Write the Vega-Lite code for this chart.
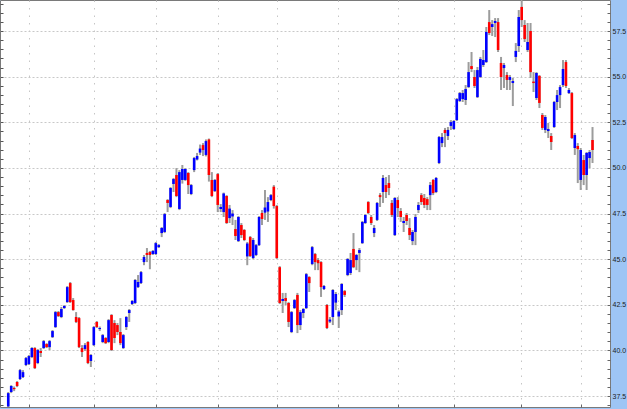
{
"$schema": "https://vega.github.io/schema/vega-lite/v6.json",
"width": 610, "height": 407,
"autosize": "none",
"padding": {"left": 0, "top": 0, "right": 17, "bottom": 2},
"background": "#9ec5f5",
"config": {"view": {"fill": "#ffffff", "stroke": "#7a7a7a", "strokeWidth": 1}},
"data": {"values": [
{"day":0,"open":36.93,"high":37.72,"low":36.9,"close":37.66},
{"day":1,"open":37.72,"high":38.1,"low":37.66,"close":38.05},
{"day":2,"open":37.94,"high":38.02,"low":37.77,"close":37.88},
{"day":3,"open":38.27,"high":38.32,"low":37.99,"close":38.05},
{"day":4,"open":38.43,"high":38.98,"low":38.38,"close":38.92},
{"day":5,"open":38.54,"high":38.92,"low":38.49,"close":38.81},
{"day":6,"open":39.2,"high":39.64,"low":39.14,"close":39.58},
{"day":7,"open":39.25,"high":39.75,"low":39.2,"close":39.69},
{"day":8,"open":39.64,"high":40.18,"low":39.58,"close":40.13},
{"day":9,"open":40.13,"high":40.18,"low":38.98,"close":39.03},
{"day":10,"open":39.31,"high":40.08,"low":39.25,"close":40.02},
{"day":11,"open":39.97,"high":40.13,"low":39.64,"close":39.86},
{"day":12,"open":40.13,"high":40.57,"low":40.08,"close":40.51},
{"day":13,"open":40.35,"high":40.4,"low":40.13,"close":40.18},
{"day":14,"open":40.18,"high":40.57,"low":40.02,"close":40.51},
{"day":15,"open":40.73,"high":41.12,"low":40.68,"close":41.06},
{"day":16,"open":41.28,"high":42.16,"low":41.23,"close":42.1},
{"day":17,"open":42.1,"high":42.16,"low":41.83,"close":41.88},
{"day":18,"open":41.83,"high":42.38,"low":41.77,"close":42.27},
{"day":19,"open":42.32,"high":42.49,"low":42.27,"close":42.43},
{"day":20,"open":42.65,"high":43.53,"low":42.6,"close":43.47},
{"day":21,"open":43.69,"high":43.75,"low":42.6,"close":42.65},
{"day":22,"open":42.76,"high":42.87,"low":42.18,"close":42.21},
{"day":23,"open":41.83,"high":42.1,"low":41.5,"close":41.56},
{"day":24,"open":41.77,"high":41.83,"low":40.13,"close":40.18},
{"day":25,"open":40.13,"high":40.29,"low":39.64,"close":39.91},
{"day":26,"open":40.08,"high":40.4,"low":39.97,"close":40.29},
{"day":27,"open":40.46,"high":40.51,"low":39.25,"close":39.31},
{"day":28,"open":39.42,"high":39.8,"low":39.09,"close":39.75},
{"day":29,"open":40.29,"high":41.34,"low":40.24,"close":41.28},
{"day":30,"open":41.56,"high":41.61,"low":41.23,"close":41.28},
{"day":31,"open":41.17,"high":41.31,"low":41.06,"close":41.23},
{"day":32,"open":40.46,"high":40.9,"low":40.4,"close":40.84},
{"day":33,"open":40.68,"high":40.73,"low":40.35,"close":40.4},
{"day":34,"open":40.46,"high":41.72,"low":40.4,"close":41.66},
{"day":35,"open":41.94,"high":41.99,"low":39.97,"close":40.02},
{"day":36,"open":41.5,"high":41.66,"low":40.4,"close":40.68},
{"day":37,"open":41.39,"high":41.5,"low":40.84,"close":41.01},
{"day":38,"open":41.01,"high":41.77,"low":40.29,"close":40.4},
{"day":39,"open":40.13,"high":40.9,"low":40.08,"close":40.84},
{"day":40,"open":41.28,"high":41.88,"low":41.12,"close":41.83},
{"day":41,"open":42.05,"high":42.27,"low":41.56,"close":42.21},
{"day":42,"open":42.54,"high":42.76,"low":42.49,"close":42.71},
{"day":43,"open":42.6,"high":43.91,"low":42.54,"close":43.86},
{"day":44,"open":43.47,"high":44.13,"low":43.42,"close":43.75},
{"day":45,"open":43.69,"high":44.35,"low":43.64,"close":44.29},
{"day":46,"open":44.84,"high":45.23,"low":44.67,"close":45.12},
{"day":47,"open":45.34,"high":45.61,"low":44.84,"close":45.23},
{"day":48,"open":45.39,"high":45.45,"low":44.45,"close":45.23},
{"day":49,"open":45.28,"high":45.5,"low":45.23,"close":45.45},
{"day":50,"open":45.28,"high":45.94,"low":45.23,"close":45.88},
{"day":51,"open":45.66,"high":45.83,"low":45.61,"close":45.77},
{"day":52,"open":46.43,"high":46.76,"low":46.21,"close":46.71},
{"day":53,"open":46.49,"high":47.53,"low":46.43,"close":47.47},
{"day":54,"open":48.24,"high":48.29,"low":47.58,"close":48.08},
{"day":55,"open":47.86,"high":48.95,"low":47.8,"close":48.9},
{"day":56,"open":49.12,"high":49.45,"low":48.68,"close":49.39},
{"day":57,"open":49.61,"high":49.99,"low":48.4,"close":48.46},
{"day":58,"open":47.75,"high":49.88,"low":47.69,"close":49.77},
{"day":59,"open":49.34,"high":50.16,"low":49.14,"close":49.94},
{"day":60,"open":49.34,"high":49.99,"low":49.28,"close":49.94},
{"day":61,"open":49.72,"high":49.77,"low":48.57,"close":49.06},
{"day":62,"open":48.57,"high":49.12,"low":48.51,"close":49.06},
{"day":63,"open":49.88,"high":50.6,"low":49.77,"close":50.54},
{"day":64,"open":50.46,"high":50.82,"low":50.41,"close":50.65},
{"day":65,"open":50.84,"high":51.28,"low":50.71,"close":51.06},
{"day":66,"open":51.25,"high":51.36,"low":50.65,"close":50.98},
{"day":67,"open":50.71,"high":51.56,"low":50.63,"close":51.47},
{"day":68,"open":51.56,"high":51.61,"low":49.25,"close":49.61},
{"day":69,"open":49.34,"high":49.77,"low":48.4,"close":48.46},
{"day":70,"open":48.73,"high":49.39,"low":48.68,"close":49.34},
{"day":71,"open":49.66,"high":49.72,"low":47.58,"close":47.97},
{"day":72,"open":47.75,"high":48.02,"low":47.58,"close":47.86},
{"day":73,"open":47.58,"high":48.65,"low":47.31,"close":48.6},
{"day":74,"open":48.46,"high":48.51,"low":46.93,"close":46.98},
{"day":75,"open":47.25,"high":47.97,"low":46.98,"close":47.77},
{"day":76,"open":47.34,"high":47.69,"low":46.87,"close":47.5},
{"day":77,"open":46.65,"high":47.15,"low":46.05,"close":46.27},
{"day":78,"open":45.99,"high":47.36,"low":45.94,"close":47.31},
{"day":79,"open":46.87,"high":46.98,"low":46.16,"close":46.32},
{"day":80,"open":46.6,"high":46.65,"low":45.99,"close":46.05},
{"day":81,"open":45.15,"high":45.94,"low":44.67,"close":45.86},
{"day":82,"open":46.21,"high":46.27,"low":45.12,"close":45.17},
{"day":83,"open":45.06,"high":46.16,"low":45.01,"close":46.05},
{"day":84,"open":45.23,"high":45.83,"low":45.17,"close":45.77},
{"day":85,"open":45.77,"high":47.36,"low":45.72,"close":47.31},
{"day":86,"open":47.53,"high":47.69,"low":46.87,"close":47.2},
{"day":87,"open":47.55,"high":48.79,"low":47.15,"close":47.83},
{"day":88,"open":47.61,"high":48.4,"low":47.04,"close":48.13},
{"day":89,"open":48.24,"high":48.57,"low":48.18,"close":48.51},
{"day":90,"open":48.97,"high":49.06,"low":47.77,"close":47.91},
{"day":91,"open":47.91,"high":47.97,"low":45.01,"close":45.06},
{"day":92,"open":44.56,"high":44.62,"low":42.54,"close":42.6},
{"day":93,"open":42.71,"high":43.15,"low":42.05,"close":42.82},
{"day":94,"open":42.87,"high":43.15,"low":42.49,"close":42.71},
{"day":95,"open":42.6,"high":42.65,"low":41.28,"close":41.56},
{"day":96,"open":41.01,"high":42.16,"low":40.95,"close":42.1},
{"day":97,"open":42.32,"high":42.82,"low":42.27,"close":42.76},
{"day":98,"open":43.04,"high":43.15,"low":40.95,"close":41.39},
{"day":99,"open":41.39,"high":42.21,"low":41.12,"close":42.1},
{"day":100,"open":42.05,"high":42.32,"low":41.77,"close":42.27},
{"day":101,"open":42.32,"high":44.24,"low":42.27,"close":44.18},
{"day":102,"open":44.02,"high":44.07,"low":43.2,"close":43.69},
{"day":103,"open":44.73,"high":45.72,"low":44.67,"close":45.66},
{"day":104,"open":45.28,"high":45.34,"low":44.4,"close":44.84},
{"day":105,"open":44.95,"high":45.06,"low":44.4,"close":44.78},
{"day":106,"open":44.84,"high":44.89,"low":42.93,"close":43.47},
{"day":107,"open":43.36,"high":43.58,"low":43.31,"close":43.53},
{"day":108,"open":42.49,"high":42.54,"low":41.17,"close":41.23},
{"day":109,"open":41.58,"high":41.83,"low":41.5,"close":41.69},
{"day":110,"open":41.83,"high":43.36,"low":41.39,"close":43.31},
{"day":111,"open":42.62,"high":43.2,"low":42.21,"close":43.09},
{"day":112,"open":41.86,"high":42.21,"low":41.23,"close":42.13},
{"day":113,"open":42.21,"high":43.69,"low":41.94,"close":43.64},
{"day":114,"open":43.25,"high":43.31,"low":42.93,"close":43.04},
{"day":115,"open":44.13,"high":45.06,"low":44.07,"close":45.01},
{"day":116,"open":44.24,"high":45.34,"low":44.13,"close":44.95},
{"day":117,"open":45.56,"high":46.43,"low":44.51,"close":44.56},
{"day":118,"open":44.95,"high":45.28,"low":44.4,"close":45.23},
{"day":119,"open":45.34,"high":45.61,"low":44.29,"close":45.5},
{"day":120,"open":45.88,"high":47.09,"low":45.83,"close":47.04},
{"day":121,"open":46.98,"high":47.47,"low":46.93,"close":47.42},
{"day":122,"open":48.13,"high":48.18,"low":47.47,"close":47.53},
{"day":123,"open":47.31,"high":47.42,"low":46.87,"close":46.98},
{"day":124,"open":46.43,"high":46.87,"low":46.21,"close":46.71},
{"day":125,"open":47.15,"high":48.13,"low":47.09,"close":48.08},
{"day":126,"open":48.51,"high":48.62,"low":47.86,"close":48.4},
{"day":127,"open":48.68,"high":49.61,"low":48.08,"close":49.45},
{"day":128,"open":49.06,"high":49.5,"low":48.35,"close":48.68},
{"day":129,"open":49.17,"high":49.61,"low":48.51,"close":48.9},
{"day":130,"open":48.08,"high":48.24,"low":47.31,"close":47.42},
{"day":131,"open":46.32,"high":48.4,"low":46.27,"close":48.35},
{"day":132,"open":48.24,"high":48.4,"low":47.31,"close":47.8},
{"day":133,"open":47.64,"high":47.8,"low":47.04,"close":47.31},
{"day":134,"open":46.98,"high":47.31,"low":46.49,"close":47.09},
{"day":135,"open":47.42,"high":47.53,"low":46.87,"close":47.09},
{"day":136,"open":46.71,"high":47.25,"low":46.05,"close":46.32},
{"day":137,"open":45.99,"high":46.6,"low":45.77,"close":46.49},
{"day":138,"open":46.49,"high":47.47,"low":45.77,"close":47.31},
{"day":139,"open":47.69,"high":48.13,"low":47.53,"close":47.97},
{"day":140,"open":48.51,"high":48.62,"low":47.97,"close":48.13},
{"day":141,"open":48.35,"high":48.57,"low":47.8,"close":47.97},
{"day":142,"open":48.29,"high":48.4,"low":47.69,"close":47.97},
{"day":143,"open":48.51,"high":49.23,"low":47.69,"close":49.06},
{"day":144,"open":49.34,"high":49.39,"low":48.51,"close":48.62},
{"day":145,"open":48.68,"high":49.5,"low":48.62,"close":49.45},
{"day":146,"open":50.27,"high":51.75,"low":50.21,"close":51.69},
{"day":147,"open":51.36,"high":51.91,"low":51.14,"close":51.69},
{"day":148,"open":52.08,"high":52.19,"low":51.14,"close":51.91},
{"day":149,"open":51.75,"high":52.24,"low":51.53,"close":52.08},
{"day":150,"open":52.3,"high":52.62,"low":52.08,"close":52.51},
{"day":151,"open":52.13,"high":52.62,"low":52.08,"close":52.57},
{"day":152,"open":52.62,"high":53.83,"low":52.57,"close":53.77},
{"day":153,"open":53.67,"high":54.16,"low":53.61,"close":54.1},
{"day":154,"open":53.77,"high":54.27,"low":53.61,"close":54.1},
{"day":155,"open":53.72,"high":54.54,"low":53.45,"close":54.32},
{"day":156,"open":54.43,"high":55.8,"low":54.38,"close":55.25},
{"day":157,"open":55.58,"high":56.35,"low":55.25,"close":55.42},
{"day":158,"open":54.98,"high":55.36,"low":54.38,"close":54.49},
{"day":159,"open":53.88,"high":55.53,"low":53.83,"close":55.36},
{"day":160,"open":54.98,"high":56.08,"low":54.93,"close":55.97},
{"day":161,"open":55.64,"high":56.46,"low":55.53,"close":55.91},
{"day":162,"open":55.8,"high":57.72,"low":55.75,"close":57.45},
{"day":163,"open":57.99,"high":58.65,"low":57.28,"close":57.39},
{"day":164,"open":57.72,"high":58.1,"low":57.23,"close":57.88},
{"day":165,"open":57.94,"high":58.21,"low":57.17,"close":58.05},
{"day":166,"open":57.99,"high":58.21,"low":56.35,"close":56.46},
{"day":167,"open":55.75,"high":56.08,"low":54.27,"close":54.98},
{"day":168,"open":55.47,"high":55.75,"low":54.38,"close":55.64},
{"day":169,"open":55.09,"high":55.25,"low":54.27,"close":54.82},
{"day":170,"open":54.82,"high":55.09,"low":54.27,"close":54.98},
{"day":171,"open":54.65,"high":54.93,"low":53.39,"close":54.76},
{"day":172,"open":56.08,"high":56.84,"low":55.8,"close":56.41},
{"day":173,"open":56.68,"high":58.65,"low":56.35,"close":58.27},
{"day":174,"open":58.82,"high":59.17,"low":57.72,"close":58.1},
{"day":175,"open":57.83,"high":58.1,"low":56.9,"close":57.06},
{"day":176,"open":56.46,"high":57.94,"low":56.35,"close":56.9},
{"day":177,"open":57.5,"high":57.94,"low":54.93,"close":55.25},
{"day":178,"open":54.73,"high":55.25,"low":54.16,"close":54.65},
{"day":179,"open":53.83,"high":55.25,"low":53.72,"close":55.2},
{"day":180,"open":55.04,"high":55.09,"low":53.28,"close":53.56},
{"day":181,"open":52.9,"high":53.01,"low":52.08,"close":52.19},
{"day":182,"open":52.08,"high":52.9,"low":51.91,"close":52.79},
{"day":183,"open":52.02,"high":52.46,"low":51.64,"close":52.13},
{"day":184,"open":51.75,"high":51.91,"low":50.98,"close":51.42},
{"day":185,"open":52.24,"high":53.67,"low":52.19,"close":53.61},
{"day":186,"open":53.61,"high":54.27,"low":53.17,"close":53.99},
{"day":187,"open":53.99,"high":54.54,"low":53.28,"close":54.43},
{"day":188,"open":54.54,"high":55.91,"low":54.43,"close":55.42},
{"day":189,"open":55.8,"high":55.91,"low":54.38,"close":54.49},
{"day":190,"open":54.1,"high":54.38,"low":54.05,"close":54.27},
{"day":191,"open":54.1,"high":54.16,"low":51.58,"close":51.64},
{"day":192,"open":51.09,"high":51.91,"low":50.71,"close":51.8},
{"day":193,"open":51.2,"high":51.36,"low":49.17,"close":51.03},
{"day":194,"open":49.34,"high":51.09,"low":48.79,"close":50.98},
{"day":195,"open":50.43,"high":50.71,"low":49.06,"close":49.61},
{"day":196,"open":49.61,"high":50.87,"low":48.79,"close":50.82},
{"day":197,"open":50.54,"high":50.98,"low":49.99,"close":50.87},
{"day":198,"open":51.53,"high":52.24,"low":50.27,"close":50.98}
]},
"encoding": {
  "x": {"field": "day", "type": "quantitative",
    "scale": {"domain": [-1.1, 202.23], "nice": false, "zero": false},
    "axis": {"orient": "bottom", "values": [7.2, 29.2, 50.2, 71.2, 91.2, 111.9, 132.2, 151.2, 173.6, 194.2],
      "labels": false, "title": null, "domain": false, "grid": true, "gridColor": "#c6c6c6", "gridDash": [1.5, 6], "gridWidth": 1,
      "ticks": true, "tickSize": -3, "tickColor": "#666666"}}
},
"layer": [
  {"mark": {"type": "rule", "color": "#9c9c9c", "strokeWidth": 2, "clip": true},
   "encoding": {
     "y": {"field": "low", "type": "quantitative",
       "scale": {"domain": [36.9, 59.2], "nice": false, "zero": false},
       "axis": {"orient": "right", "title": null, "domain": false,
         "values": [37,37.5,38,38.5,39,39.5,40,40.5,41,41.5,42,42.5,43,43.5,44,44.5,45,45.5,46,46.5,47,47.5,48,48.5,49,49.5,50,50.5,51,51.5,52,52.5,53,53.5,54,54.5,55,55.5,56,56.5,57,57.5,58,58.5,59],
         "labelExpr": "datum.value % 2.5 === 0 ? datum.label : ''",
         "labelFont": "Liberation Sans", "labelFontSize": 7, "labelColor": "#222222", "labelPadding": 5,
         "tickSize": -3, "tickColor": "#666666",
         "grid": true, "gridColor": "#c8c8c8", "gridDash": [2, 2],
         "gridOpacity": {"condition": {"test": "datum.value % 2.5 === 0", "value": 1}, "value": 0}}},
     "y2": {"field": "high"}}},
  {"mark": {"type": "bar", "size": 2.6, "clip": true},
   "encoding": {
     "y": {"field": "open", "type": "quantitative",
       "scale": {"domain": [36.9, 59.2], "nice": false, "zero": false},
       "axis": {"orient": "left", "title": null, "domain": false, "labels": false, "grid": false,
         "values": [37,37.5,38,38.5,39,39.5,40,40.5,41,41.5,42,42.5,43,43.5,44,44.5,45,45.5,46,46.5,47,47.5,48,48.5,49,49.5,50,50.5,51,51.5,52,52.5,53,53.5,54,54.5,55,55.5,56,56.5,57,57.5,58,58.5,59],
         "tickSize": -3, "tickColor": "#555555"}},
     "y2": {"field": "close"},
     "color": {"condition": {"test": "datum.close >= datum.open", "value": "#0000ff"}, "value": "#ff0000"}}}
],
"resolve": {"axis": {"y": "independent"}}
}
